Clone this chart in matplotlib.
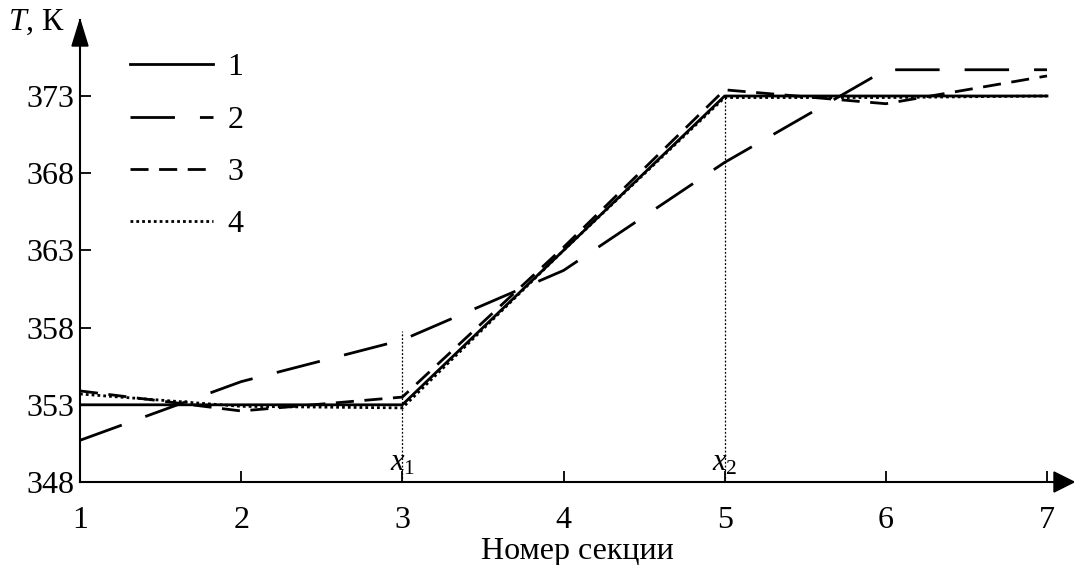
import matplotlib
matplotlib.use("Agg")
import matplotlib.pyplot as plt
from matplotlib.patches import Polygon

plt.rcParams['font.family'] = ['Liberation Serif', 'DejaVu Serif']
plt.rcParams['mathtext.fontset'] = 'custom'
plt.rcParams['mathtext.rm'] = 'Liberation Serif'
plt.rcParams['mathtext.it'] = 'Liberation Serif:italic'

# ---- data ----
sections = [1, 2, 3, 4, 5, 6, 7]
t_model1 = [353.0, 353.0, 353.0, 363.0, 373.0, 373.0, 373.0]
t_model2 = [350.7, 354.5, 357.2, 361.7, 368.7, 374.7, 374.7]
t_model3 = [353.9, 352.6, 353.5, 363.2, 373.4, 372.5, 374.3]
t_model4 = [353.7, 352.9, 352.8, 363.0, 372.9, 372.9, 373.0]
series_labels = ['1', '2', '3', '4']
y_ticks = [348, 353, 358, 363, 368, 373]
x_ticks = [1, 2, 3, 4, 5, 6, 7]
x1_pos, x2_pos = 3, 5
x1_top, x2_top = 357.8, 373.0

W, H = 1074, 565
fig = plt.figure(figsize=(W / 100, H / 100), dpi=100)
left_px, right_px, top_px, bottom_px = 80, 1074, 20, 482
ax = fig.add_axes([left_px / W, 1 - bottom_px / H,
                   (right_px - left_px) / W, (bottom_px - top_px) / H])

lw = 2.0
ax.plot(sections, t_model1, color='black', lw=lw, ls='-', label=series_labels[0])
ax.plot(sections, t_model2, color='black', lw=lw, dashes=(16, 9), label=series_labels[1])
ax.plot(sections, t_model3, color='black', lw=lw, dashes=(6.5, 3.8), label=series_labels[2])
ax.plot(sections, t_model4, color='black', lw=lw, dashes=(1.0, 1.1), label=series_labels[3])

ax.plot([x1_pos, x1_pos], [348, x1_top], color='black', lw=0.9, dashes=(1.5, 1.5))
ax.plot([x2_pos, x2_pos], [348, x2_top], color='black', lw=0.9, dashes=(1.5, 1.5))
ax.text(x1_pos, 349.2, '$x_1$', fontsize=22, ha='center', va='center')
ax.text(x2_pos, 349.2, '$x_2$', fontsize=22, ha='center', va='center')

ax.set_xlim(1, 1 + (right_px - left_px) / ((1047 - left_px) / 6))
ax.set_ylim(348, 348 + (bottom_px - top_px) / ((482 - 96) / 25))
ax.set_xticks(x_ticks)
ax.set_yticks(y_ticks)
ax.tick_params(direction='in', length=8, width=1.3, labelsize=23)
ax.tick_params(axis='x', pad=17)
ax.tick_params(axis='y', pad=4)
for s in ['top', 'right']:
    ax.spines[s].set_visible(False)
for s in ['left', 'bottom']:
    ax.spines[s].set_linewidth(1.5)

ax.set_xlabel('Номер секции', fontsize=23, labelpad=2)

leg = ax.legend(loc='upper left', bbox_to_anchor=(50 / (right_px - left_px), 1 - 33 / (bottom_px - top_px)),
                frameon=False, fontsize=23, handlelength=2.6, handletextpad=0.45,
                labelspacing=0.72, borderaxespad=0, borderpad=0)

fig.text(8 / W, 1 - 22 / H, '$T$, К', fontsize=23, ha='left', va='center')

# axis arrowheads
def px(x, y):
    return (x / W, 1 - y / H)
fig.patches.append(Polygon([px(80, 20), px(72, 46), px(88, 46)], closed=True,
                           color='black', transform=fig.transFigure, figure=fig))
fig.patches.append(Polygon([px(1074, 482), px(1054, 472), px(1054, 492)], closed=True,
                           color='black', transform=fig.transFigure, figure=fig))

fig.savefig('out.png', dpi=100)
